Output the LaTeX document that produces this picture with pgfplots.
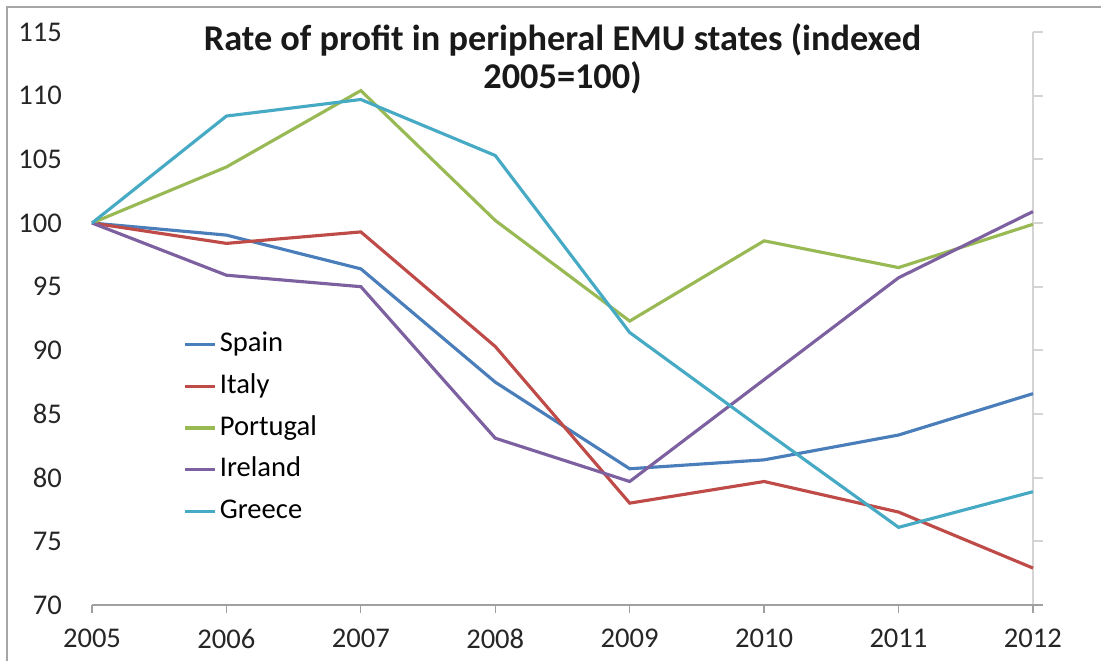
\documentclass[border=0pt]{standalone}
\usepackage{pgfplots}
\pgfplotsset{compat=1.18}
\usepackage{fontspec}
\setmainfont{Carlito}

\definecolor{spain}{HTML}{4A7EBB}
\definecolor{italy}{HTML}{BE4B48}
\definecolor{portugal}{HTML}{98B954}
\definecolor{ireland}{HTML}{7D60A0}
\definecolor{greece}{HTML}{46AAC5}
\definecolor{axgray}{HTML}{A0A0A0}
\definecolor{rgray}{HTML}{D4D4D4}
\definecolor{framegray}{HTML}{A6A6A6}

\begin{document}
\begin{tikzpicture}
% 1 px of the reference = 0.35pt; axis box spans px (92,32)-(1033,605)
\useasboundingbox (-32.2pt,-19.6pt) rectangle (353.15pt,211.75pt);
% outer chart frame (left and top edges visible)
\draw[framegray, line width=0.5pt] (-29.75pt,-19.6pt) -- (-29.75pt,209.3pt) -- (353.15pt,209.3pt);

% right-hand axis line with ticks, no labels
\begin{axis}[
  at={(0,0)}, anchor=south west,
  scale only axis, width=329.35pt, height=200.55pt,
  xmin=2005, xmax=2012, ymin=70, ymax=115,
  axis x line=none, axis y line*=right,
  ytick={70,75,...,115}, yticklabels={},
  tick align=outside, major tick length=3.5pt,
  y axis line style={draw=rgray, line width=0.8pt},
  ytick style={draw=rgray, line width=0.6pt},
]
\end{axis}

\begin{axis}[
  at={(0,0)}, anchor=south west,
  scale only axis, width=329.35pt, height=200.55pt,
  xmin=2005, xmax=2012, ymin=70, ymax=115,
  clip=false,
  axis x line*=bottom, axis y line*=left,
  y axis line style={draw=none},
  x axis line style={draw=axgray, line width=0.45pt, shorten >=-3.5pt},
  xtick={2005,...,2012}, ytick={70,75,...,115},
  tick align=outside,
  xtick style={draw=axgray, line width=0.45pt},
  ytick style={draw=none},
  major tick length=2.8pt,
  /pgf/number format/assume math mode=true,
  /pgf/number format/1000 sep={},
  tick label style={font=\fontsize{10}{12}\selectfont, text=black!85},
  yticklabel style={anchor=east, xshift=-4.2pt},
  xticklabel style={yshift=-2pt},
  legend cell align=left,
  legend style={at={(axis description cs:0.097,0.483)}, anchor=north west,
    draw=none, fill=none, row sep=3.6pt, inner sep=0pt,
    font=\fontsize{10}{12}\selectfont,
    nodes={inner sep=1pt, text height=7pt, text depth=2pt}},
  legend image code/.code={\draw[#1] (0pt,0pt) -- (10.5pt,0pt);},
  every axis plot/.append style={line width=1.1pt},
]
\addplot[spain] coordinates {(2005,100) (2006,99.05) (2007,96.4) (2008,87.5) (2009,80.7) (2010,81.4) (2011,83.35) (2012,86.6)};
\addplot[italy] coordinates {(2005,100) (2006,98.4) (2007,99.3) (2008,90.3) (2009,78.0) (2010,79.7) (2011,77.3) (2012,72.9)};
\addplot[portugal] coordinates {(2005,100) (2006,104.4) (2007,110.4) (2008,100.2) (2009,92.3) (2010,98.6) (2011,96.5) (2012,99.9)};
\addplot[ireland] coordinates {(2005,100) (2006,95.9) (2007,95.0) (2008,83.1) (2009,79.7) (2010,87.7) (2011,95.7) (2012,100.9)};
\addplot[greece] coordinates {(2005,100) (2006,108.4) (2007,109.7) (2008,105.3) (2009,91.4) (2010,83.7) (2011,76.1) (2012,78.9)};
\legend{Spain, Italy, Portugal, Ireland, Greece}
\node[font=\bfseries\fontsize{12.7}{13.4}\selectfont, align=center, text=black!90]
  at (axis description cs:0.5,0.953) {Rate of profit in peripheral EMU states (indexed\\2005=100)};
\end{axis}
\end{tikzpicture}
\end{document}
